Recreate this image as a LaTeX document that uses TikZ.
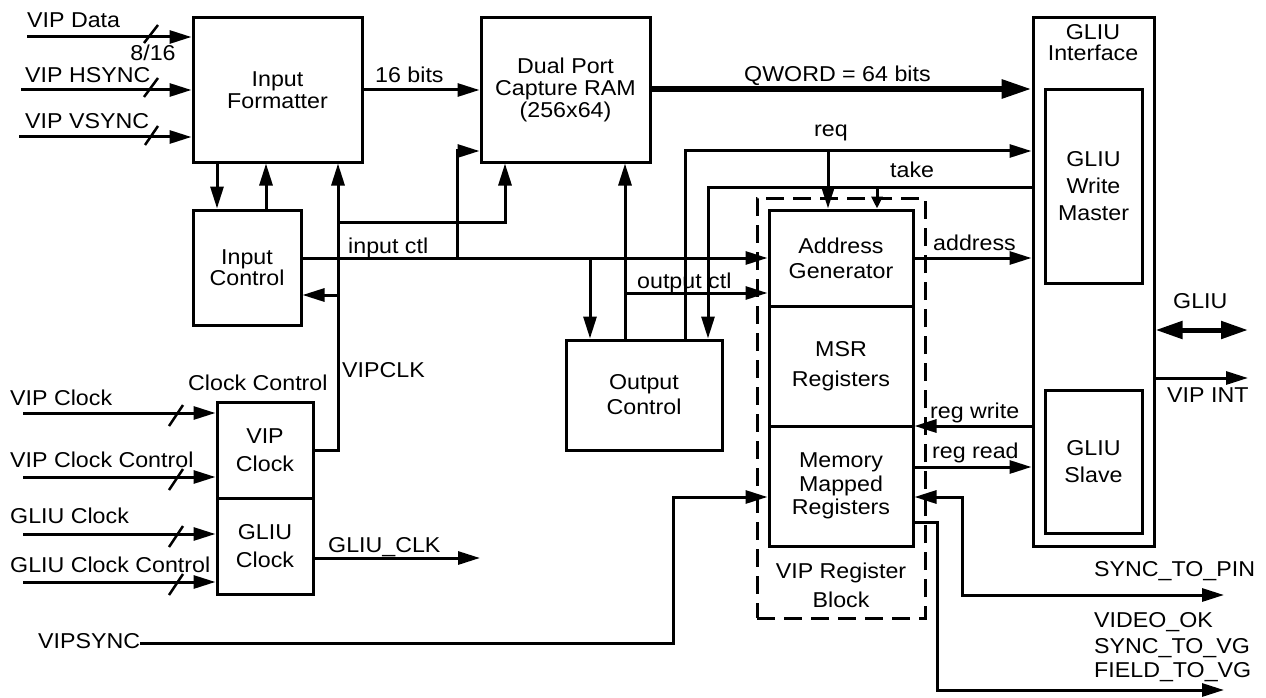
\documentclass[tikz,border=0pt]{standalone}
\usepackage{fontspec}
\setmainfont[FakeStretch=1.08]{Liberation Sans}
\usetikzlibrary{arrows.meta}
\newcommand{\fs}[1]{\fontsize{21.5}{#1}\selectfont}
\begin{document}
\begin{tikzpicture}[x=1pt,y=-1pt,
  every node/.style={font=\fs{22}, inner sep=0pt},
  box/.style={draw, line width=3pt, align=center},
  dbox/.style={draw, line width=3pt, dash pattern=on 18pt off 9pt},
  lbl/.style={anchor=base west},
  clbl/.style={anchor=base},
  ln/.style={line width=3pt},
  sl/.style={line width=2.5pt},
  arr/.style={line width=3pt, -{Triangle[length=22pt,width=13pt]}},
  arrb/.style={line width=3pt, {Triangle[length=22pt,width=13pt]}-{Triangle[length=22pt,width=13pt]}},
  sarr/.style={line width=3pt, -{Triangle[length=12pt,width=11pt]}},
  qarr/.style={line width=6pt, -{Triangle[length=30pt,width=18pt]}},
  dbl/.style={line width=5pt, {Triangle[length=27pt,width=17pt]}-{Triangle[length=27pt,width=17pt]}}]
\useasboundingbox (0,0) rectangle (1266,698);

% dashed register block
\node[dbox, minimum width=168pt, minimum height=420pt] (vrb) at (841,408) {};

% boxes
\node[box, minimum width=169pt, minimum height=144pt] (if) at (277.5,90) {Input\\Formatter};
\node[box, minimum width=169pt, minimum height=144pt] (dp) at (565.5,90) {Dual Port\\Capture RAM\\(256x64)};
\node[box, minimum width=108pt, minimum height=115pt, font=\fs{20}] (ic) at (247,267.5) {Input\\Control};
\node[box, minimum width=156pt, minimum height=110pt, font=\fs{25}] (oc) at (644,395) {Output\\Control};
\node[box, minimum width=96pt, minimum height=96pt, font=\fs{28}] (vck) at (265,450) {VIP\\Clock};
\node[box, minimum width=96pt, minimum height=96pt, font=\fs{28}] (gck) at (265,546) {GLIU\\Clock};
\node[box, minimum width=144pt, minimum height=96pt, font=\fs{25}] (ag) at (841,258) {Address\\Generator};
\node[box, minimum width=144pt, minimum height=120pt, font=\fs{30}] (msr) at (841,366) {MSR\\Registers};
\node[box, minimum width=144pt, minimum height=120pt, font=\fs{23.5}] (mmr) at (841,486) {Memory\\Mapped\\Registers};
\node[box, minimum width=121pt, minimum height=528pt] (gi) at (1093.5,282) {};
\node[align=center, font=\fs{21}] (gil) at (1093,42.5) {GLIU\\Interface};
\node[box, minimum width=97pt, minimum height=193pt, font=\fs{27}] (gwm) at (1093.5,186.5) {GLIU\\Write\\Master};
\node[box, minimum width=97pt, minimum height=143pt, font=\fs{27}] (gs) at (1093.5,461.5) {GLIU\\Slave};

% labels
\node[lbl] (lvd) at (27,28) {VIP Data};
\node[clbl] (l816) at (153,61) {8/16};
\node[lbl] (lhs) at (25,83) {VIP HSYNC};
\node[lbl] (lvs) at (25,129) {VIP VSYNC};
\node[lbl] (l16) at (375,83) {16 bits};
\node[lbl] (lqw) at (744,82) {QWORD = 64 bits};
\node[clbl] (lreq) at (831,136) {req};
\node[lbl] (ltake) at (890,177) {take};
\node[lbl] (lin) at (348,253) {input ctl};
\node[lbl] (lout) at (637,288) {output ctl};
\node[lbl] (laddr) at (933,250) {address};
\node[lbl] (lgliu) at (1173,308) {GLIU};
\node[lbl] (lint) at (1167,402) {VIP INT};
\node[lbl] (lrw) at (930,418) {reg write};
\node[lbl] (lrr) at (932,458) {reg read};
\node[lbl] (lstp) at (1094,576) {SYNC\_TO\_PIN};
\node[lbl] (lvok) at (1094,627) {VIDEO\_OK};
\node[lbl] (lsvg) at (1094,653) {SYNC\_TO\_VG};
\node[lbl] (lfvg) at (1094,677) {FIELD\_TO\_VG};
\node[clbl] (lvrb1) at (841,578) {VIP Register};
\node[clbl] (lvrb2) at (841,607) {Block};
\node[lbl] (lcc) at (188,390) {Clock Control};
\node[lbl] (lvclk) at (342,377) {VIPCLK};
\node[lbl] (lvc) at (10,405) {VIP Clock};
\node[lbl] (lvcc) at (10,467) {VIP Clock Control};
\node[lbl] (lgc) at (10,523) {GLIU Clock};
\node[lbl] (lgcc) at (10,572) {GLIU Clock Control};
\node[lbl] (lgclk) at (328,552) {GLIU\_CLK};
\node[lbl] (vs) at (38,648) {VIPSYNC};

% free ends
\coordinate (d0) at (27,37);
\coordinate (h0) at (21,90);
\coordinate (v0) at (19,137);
\coordinate (c1) at (23,413);
\coordinate (c2) at (23,477);
\coordinate (c3) at (23,534);
\coordinate (c4) at (23,582);
\coordinate (gclk) at (480,558);
\coordinate (gliu) at (1248,330);
\coordinate (vint) at (1248,378);
\coordinate (stp) at (1224,595);
\coordinate (vok) at (1224,690);

% inputs on the left
\draw[arr] (d0) -- (if.west |- d0);
\draw[arr] (h0) -- (if.west |- h0);
\draw[arr] (v0) -- (if.west |- v0);
\draw[sl] (144,43) -- (158,25);
\draw[sl] (144,97) -- (158,78);
\draw[sl] (145,145) -- (158,126);
\draw[arr] (c1) -- (vck.west |- c1);
\draw[arr] (c2) -- (vck.west |- c2);
\draw[arr] (c3) -- (gck.west |- c3);
\draw[arr] (c4) -- (gck.west |- c4);
\draw[sl] (169,426) -- (183,405);
\draw[sl] (169,490) -- (183,469);
\draw[sl] (169,547) -- (183,526);
\draw[sl] (169,595) -- (183,574);

% data path
\draw[arr] (if.east) -- (dp.west);
\draw[qarr] (dp.east |- 0,89) -- (gi.west |- 0,89);
\draw[arr] (if.south -| 217,0) -- (ic.north -| 217,0);
\draw[arr] (ic.north -| 266,0) -- (if.south -| 266,0);

% VIPCLK
\draw[arr] (vck.east |- 0,450) -- (338,450) -- (if.south -| 338,0);
\draw[arr] (338,222) -- (505,222) -- (dp.south -| 505,0);
\draw[arr] (338,295) -- (ic.east |- 0,295);

% input ctl
\draw[arr] (ic.east |- 0,258) -- (ag.west |- 0,258);
\draw[arr] (457,258) -- (457,151) -- (dp.west |- 0,151);
\draw[arr] (590,258) -- (oc.north -| 590,0);

% output ctl
\draw[arr] (oc.north -| 625,0) -- (dp.south -| 625,0);
\draw[arr] (625,293) -- (ag.west |- 0,293);

% req / take
\draw[arr] (oc.north -| 685,0) -- (685,151) -- (gi.west |- 0,151);
\draw[arr] (828,151) -- (ag.north -| 828,0);
\draw[arr] (gi.west |- 0,187) -- (708,187) -- (oc.north -| 708,0);
\draw[sarr] (877,187) -- (ag.north -| 877,0);

% address / registers
\draw[arr] (ag.east) -- (gi.west |- ag.east);
\draw[arr] (gi.west |- 0,426) -- (mmr.east |- 0,426);
\draw[arr] (mmr.east |- 0,467) -- (gi.west |- 0,467);

% VIPSYNC and outputs
\draw[arr] (vs.east |- 0,643) -- (673,643) -- (673,497) -- (mmr.west |- 0,497);
\draw[arrb] (mmr.east |- 0,497) -- (962,497) -- (962,595) -- (stp);
\draw[arr] (mmr.east |- 0,522) -- (937,522) -- (937,690) -- (vok);
\draw[arr] (gck.east |- 0,558) -- (gclk);
\draw[dbl] (gi.east |- 0,330) -- (gliu);
\draw[arr] (gi.east |- 0,378) -- (vint);
\end{tikzpicture}
\end{document}
